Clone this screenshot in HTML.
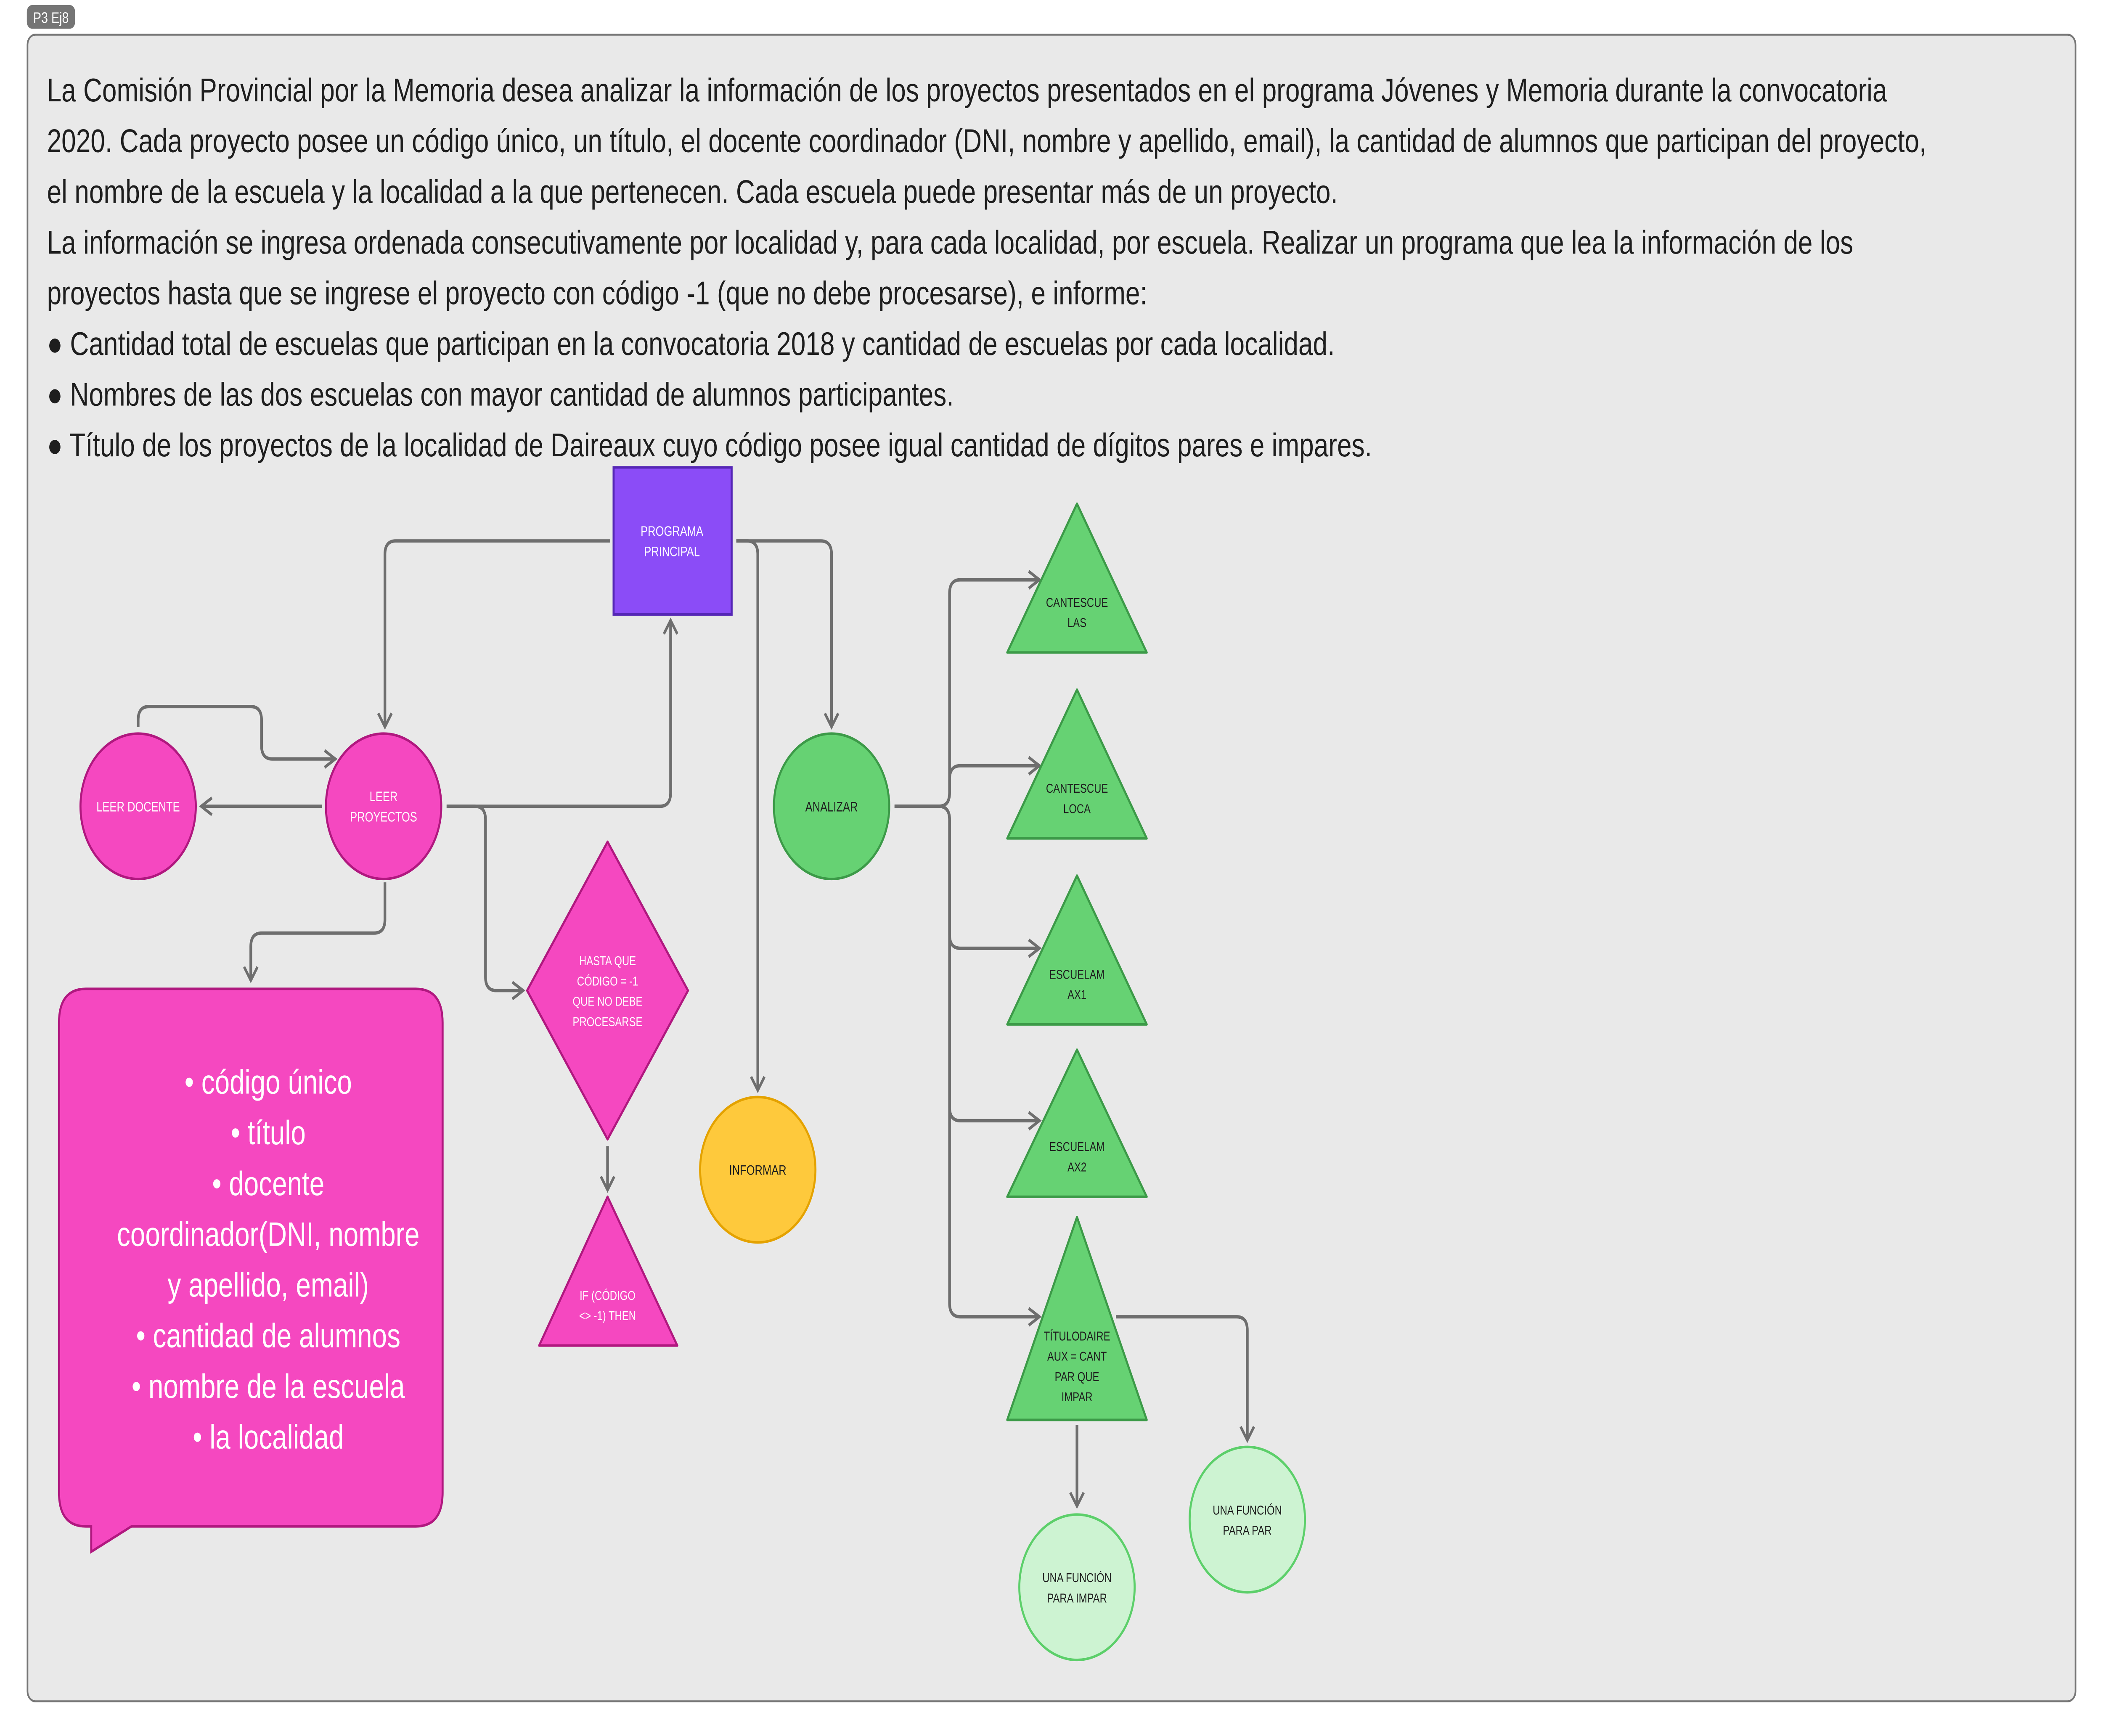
<!DOCTYPE html>
<html><head><meta charset="utf-8"><style>html,body{margin:0;padding:0;background:#fff;overflow:hidden;width:100%;height:100%}svg{display:block;position:fixed;left:0;top:0;width:100vw;height:100vh}</style></head>
<body>
<svg xmlns="http://www.w3.org/2000/svg" viewBox="0 0 1568 1027" preserveAspectRatio="none" font-family="'Liberation Sans', sans-serif">
<defs>
<marker id="a" viewBox="0 0 12 12" refX="10" refY="6" markerWidth="12" markerHeight="12" markerUnits="userSpaceOnUse" orient="auto">
<path d="M2,1 L10,6 L2,11" fill="none" stroke="#6e6e6e" stroke-width="1.8"/>
</marker>
</defs>
<rect width="1568" height="1027" fill="#fff"/>
<rect x="20" y="3" width="36" height="14" rx="4" fill="#757575"/>
<text x="38" y="13.5" font-size="9" fill="#fff" text-anchor="middle">P3 Ej8</text>
<rect x="20.5" y="20.5" width="1527" height="986" rx="6" fill="#e9e9e9" stroke="#757575" stroke-width="1.2"/>
<g font-size="19.5" fill="#1e1e1e">
<text x="35" y="60">La Comisión Provincial por la Memoria desea analizar la información de los proyectos presentados en el programa Jóvenes y Memoria durante la convocatoria</text>
<text x="35" y="90">2020. Cada proyecto posee un código único, un título, el docente coordinador (DNI, nombre y apellido, email), la cantidad de alumnos que participan del proyecto,</text>
<text x="35" y="120">el nombre de la escuela y la localidad a la que pertenecen. Cada escuela puede presentar más de un proyecto.</text>
<text x="35" y="150">La información se ingresa ordenada consecutivamente por localidad y, para cada localidad, por escuela. Realizar un programa que lea la información de los</text>
<text x="35" y="180">proyectos hasta que se ingrese el proyecto con código -1 (que no debe procesarse), e informe:</text>
<text x="35" y="210">● Cantidad total de escuelas que participan en la convocatoria 2018 y cantidad de escuelas por cada localidad.</text>
<text x="35" y="240">● Nombres de las dos escuelas con mayor cantidad de alumnos participantes.</text>
<text x="35" y="270">● Título de los proyectos de la localidad de Daireaux cuyo código posee igual cantidad de dígitos pares e impares.</text>
</g>
<g fill="none" stroke="#6e6e6e" stroke-width="2" stroke-linejoin="round" marker-end="url(#a)">
<path d="M455,320 H295 Q287,320 287,328 V430"/>
<path d="M103,430 V426 Q103,418 111,418 H187 Q195,418 195,426 V441 Q195,449 203,449 H250"/>
<path d="M240,477 H150"/>
<path d="M333,477 H492 Q500,477 500,469 V367"/>
<path d="M333,477 H354 Q362,477 362,485 V578 Q362,586 370,586 H390"/>
<path d="M287,522 V544 Q287,552 279,552 H195 Q187,552 187,560 V580"/>
<path d="M549,320 H612 Q620,320 620,328 V430"/>
<path d="M549,320 H557 Q565,320 565,328 V645"/>
<path d="M453,678 V704"/>
<path d="M667,477 H700 Q708,477 708,469 V351 Q708,343 716,343 H775"/>
<path d="M667,477 H700 Q708,477 708,469 V461 Q708,453 716,453 H775"/>
<path d="M667,477 H700 Q708,477 708,485 V553 Q708,561 716,561 H775"/>
<path d="M667,477 H700 Q708,477 708,485 V655 Q708,663 716,663 H775"/>
<path d="M667,477 H700 Q708,477 708,485 V771 Q708,779 716,779 H775"/>
<path d="M832,779 H922 Q930,779 930,787 V852"/>
<path d="M803,843 V891"/>
</g>
<rect x="457.5" y="276.5" width="88" height="87" fill="#8b4cf7" stroke="#5527b5" stroke-width="1.5"/>
<g font-size="8" text-anchor="middle" fill="#fff">
<text x="501" y="317">PROGRAMA</text><text x="501" y="329">PRINCIPAL</text>
</g>
<circle cx="103" cy="477" r="43" fill="#f548c0" stroke="#b0187f" stroke-width="1.5"/>
<circle cx="286" cy="477" r="43" fill="#f548c0" stroke="#b0187f" stroke-width="1.5"/>
<g font-size="8" text-anchor="middle" fill="#fff">
<text x="103" y="480">LEER DOCENTE</text>
<text x="286" y="474">LEER</text><text x="286" y="486">PROYECTOS</text>
</g>
<path d="M453,498 L513,586 L453,674 L393,586 Z" fill="#f548c0" stroke="#b0187f" stroke-width="1.5" stroke-linejoin="round"/>
<g font-size="7.5" text-anchor="middle" fill="#fff">
<text x="453" y="571">HASTA QUE</text><text x="453" y="583">CÓDIGO = -1</text><text x="453" y="595">QUE NO DEBE</text><text x="453" y="607">PROCESARSE</text>
</g>
<path d="M453,708 L505,796 L402,796 Z" fill="#f548c0" stroke="#b0187f" stroke-width="1.5" stroke-linejoin="round"/>
<g font-size="7.5" text-anchor="middle" fill="#fff"><text x="453" y="769">IF (CÓDIGO</text><text x="453" y="781">&lt;&gt; -1) THEN</text></g>
<path d="M64,585 H310 Q330,585 330,605 V883 Q330,903 310,903 H98 L68,918 V903 H64 Q44,903 44,883 V605 Q44,585 64,585 Z" fill="#f548c0" stroke="#b0187f" stroke-width="1.5"/>
<g font-size="20" text-anchor="middle" fill="#fff">
<text x="200" y="647">•  código único</text>
<text x="200" y="677">•  título</text>
<text x="200" y="707">•  docente</text>
<text x="200" y="737">coordinador(DNI, nombre</text>
<text x="200" y="767">y apellido, email)</text>
<text x="200" y="797">•  cantidad de alumnos</text>
<text x="200" y="827">•  nombre de la escuela</text>
<text x="200" y="857">•  la localidad</text>
</g>
<circle cx="620" cy="477" r="43" fill="#66d273" stroke="#3c9a48" stroke-width="1.5"/>
<text x="620" y="480" font-size="8" text-anchor="middle" fill="#1e1e1e">ANALIZAR</text>
<circle cx="565" cy="692" r="43" fill="#fec93c" stroke="#e4a200" stroke-width="1.5"/>
<text x="565" y="695" font-size="8" text-anchor="middle" fill="#1e1e1e">INFORMAR</text>
<g fill="#66d273" stroke="#3c9a48" stroke-width="1.5" stroke-linejoin="round">
<path d="M803,298 L855,386 L751,386 Z"/>
<path d="M803,408 L855,496 L751,496 Z"/>
<path d="M803,518 L855,606 L751,606 Z"/>
<path d="M803,621 L855,708 L751,708 Z"/>
<path d="M803,720 L855,840 L751,840 Z"/>
</g>
<g font-size="7.5" text-anchor="middle" fill="#1e1e1e">
<text x="803" y="359">CANTESCUE</text><text x="803" y="371">LAS</text>
<text x="803" y="469">CANTESCUE</text><text x="803" y="481">LOCA</text>
<text x="803" y="579">ESCUELAM</text><text x="803" y="591">AX1</text>
<text x="803" y="681">ESCUELAM</text><text x="803" y="693">AX2</text>
<text x="803" y="793">TÍTULODAIRE</text><text x="803" y="805">AUX = CANT</text><text x="803" y="817">PAR QUE</text><text x="803" y="829">IMPAR</text>
</g>
<circle cx="803" cy="939" r="43" fill="#cdf3d2" stroke="#5ccf6a" stroke-width="1.5"/>
<circle cx="930" cy="899" r="43" fill="#cdf3d2" stroke="#5ccf6a" stroke-width="1.5"/>
<g font-size="7.5" text-anchor="middle" fill="#1e1e1e">
<text x="803" y="936">UNA FUNCIÓN</text><text x="803" y="948">PARA IMPAR</text>
<text x="930" y="896">UNA FUNCIÓN</text><text x="930" y="908">PARA PAR</text>
</g>
</svg>
</body></html>
